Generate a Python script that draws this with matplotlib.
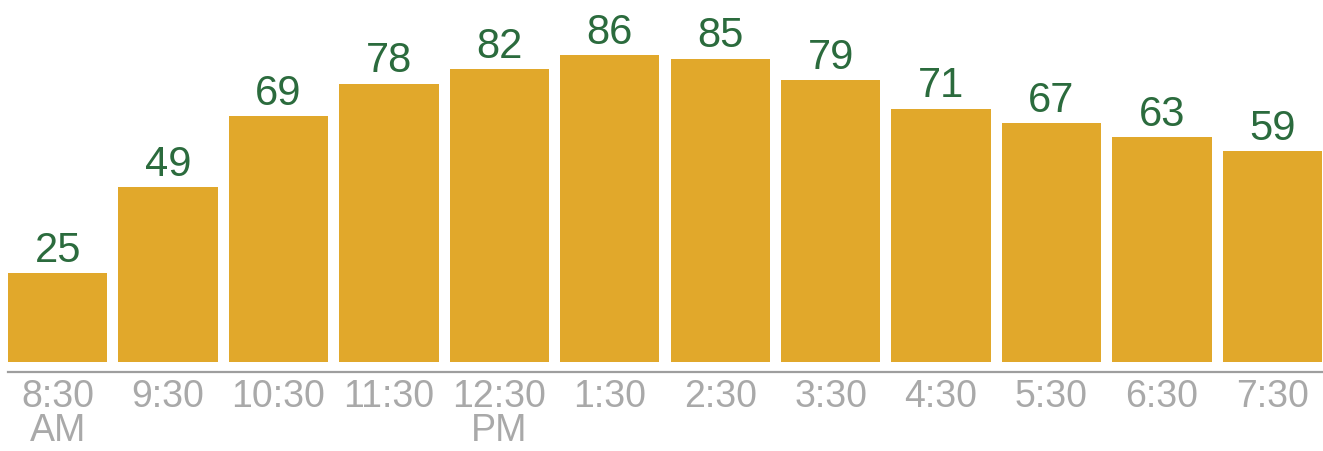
import matplotlib.pyplot as plt
import numpy as np

times = ["8:30\nAM", "9:30", "10:30", "11:30", "12:30\nPM", "1:30",
         "2:30", "3:30", "4:30", "5:30", "6:30", "7:30"]
values = [25, 49, 69, 78, 82, 86, 85, 79, 71, 67, 63, 59]

BAR_COLOR = "#E1A82B"
NUM_COLOR = "#2B6B3D"
TICK_COLOR = "#A9A9A9"

plt.rcParams["font.family"] = ["Liberation Sans", "DejaVu Sans"]

fig = plt.figure(figsize=(13.23, 4.51), dpi=100)
# baseline at y=362 px, 3.57 px per unit
bottom = (451 - 362) / 451
ax = fig.add_axes([8 / 1323, bottom - 10 / 451, 1314 / 1323, 1 - bottom + 10 / 451 - 2 / 451])
px_per_unit = 3.57
ymin = -10 / px_per_unit
ymax = (362 - 2) / px_per_unit
ax.set_ylim(ymin, ymax)
ax.set_xlim(-0.45, len(values) - 0.55)

x = np.arange(len(values))
ax.bar(x, values, width=0.9, color=BAR_COLOR)

for xi, v in zip(x, values):
    ax.annotate(str(v), (xi, v), xytext=(0, 8), textcoords="offset points",
                ha="center", va="baseline", fontsize=30, color=NUM_COLOR)

for s in ["top", "left", "right"]:
    ax.spines[s].set_visible(False)
ax.spines["bottom"].set_color("#9E9E9E")
ax.spines["bottom"].set_linewidth(1.6)
ax.set_yticks([])
ax.set_xticks(x)
ax.set_xticklabels(times, fontsize=27, color=TICK_COLOR, linespacing=0.92)
ax.tick_params(axis="x", length=0, pad=5)

fig.savefig("out.png", dpi=100)
